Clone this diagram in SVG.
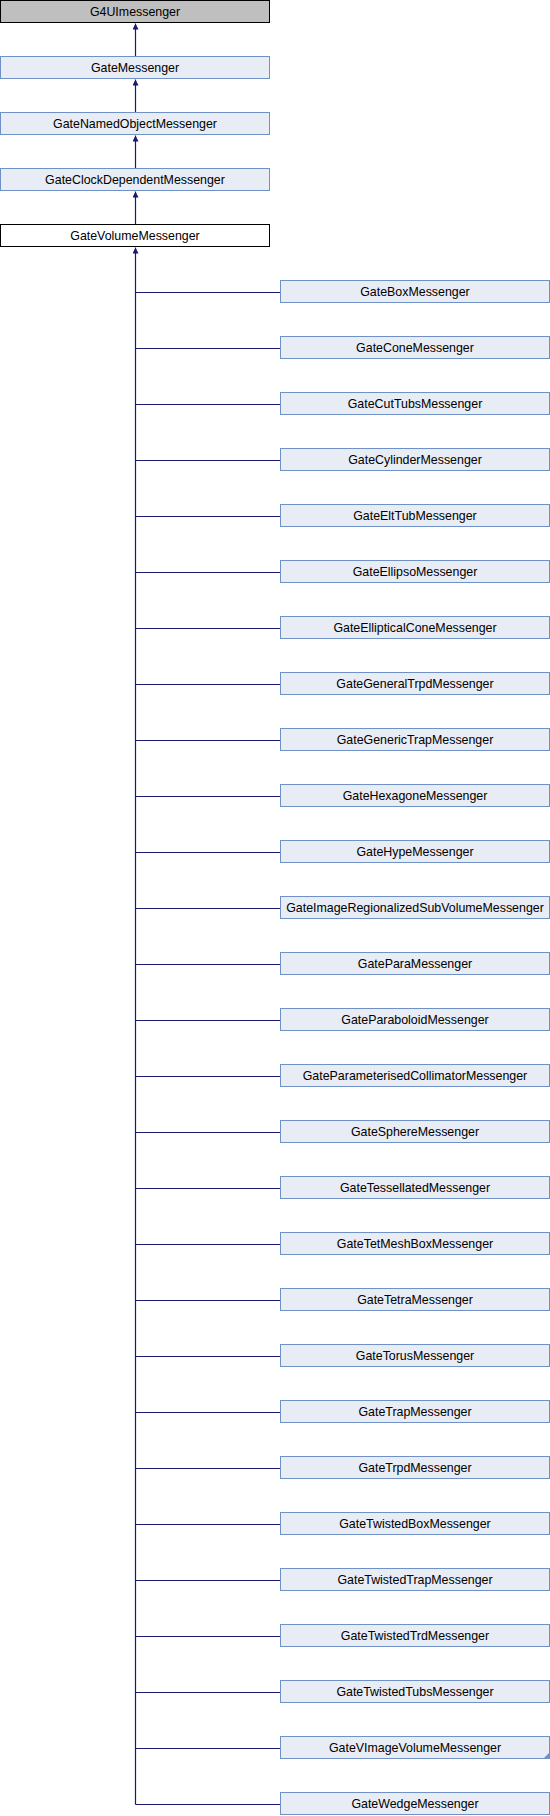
<svg xmlns="http://www.w3.org/2000/svg" width="550" height="1816" viewBox="0 0 550 1816">
<defs>
<style>
.n rect{fill:#e8ecf5;stroke:#7090c8;stroke-width:1}
.n text{font-family:"Liberation Sans",Arial,sans-serif;font-size:12.4px;fill:#000;text-anchor:middle}
.top rect{fill:#bfbfbf;stroke:#000}
.cur rect{fill:#fff;stroke:#000}
.e{stroke:#191970;stroke-width:1.2;fill:none}
</style>
<marker id="ah" viewBox="0 0 10 10" refX="10" refY="5" markerUnits="userSpaceOnUse" markerWidth="6" markerHeight="6" orient="auto">
<path d="M0,0 L10,5 L0,10 z" fill="#191970"/>
</marker>
</defs>
<g id="connectors">
<path class="e" d="M135.5,56.5 V23.5" marker-end="url(#ah)"/>
<path class="e" d="M135.5,112.5 V79.5" marker-end="url(#ah)"/>
<path class="e" d="M135.5,168.5 V135.5" marker-end="url(#ah)"/>
<path class="e" d="M135.5,224.5 V191.5" marker-end="url(#ah)"/>
<path class="e" d="M135.5,1804.5 V247.5" marker-end="url(#ah)"/>
<path class="e" d="M135.5,292.5H280.5M135.5,348.5H280.5M135.5,404.5H280.5M135.5,460.5H280.5M135.5,516.5H280.5M135.5,572.5H280.5M135.5,628.5H280.5M135.5,684.5H280.5M135.5,740.5H280.5M135.5,796.5H280.5M135.5,852.5H280.5M135.5,908.5H280.5M135.5,964.5H280.5M135.5,1020.5H280.5M135.5,1076.5H280.5M135.5,1132.5H280.5M135.5,1188.5H280.5M135.5,1244.5H280.5M135.5,1300.5H280.5M135.5,1356.5H280.5M135.5,1412.5H280.5M135.5,1468.5H280.5M135.5,1524.5H280.5M135.5,1580.5H280.5M135.5,1636.5H280.5M135.5,1692.5H280.5M135.5,1748.5H280.5M135.5,1804.5H280.5"/>
</g>
<g id="G4UImessenger" class="n top"><rect x="0.5" y="0.5" width="269" height="22"/><text x="135" y="16">G4UImessenger</text></g>
<g id="GateMessenger" class="n"><rect x="0.5" y="56.5" width="269" height="22"/><text x="135" y="72">GateMessenger</text></g>
<g id="GateNamedObjectMessenger" class="n"><rect x="0.5" y="112.5" width="269" height="22"/><text x="135" y="128">GateNamedObjectMessenger</text></g>
<g id="GateClockDependentMessenger" class="n"><rect x="0.5" y="168.5" width="269" height="22"/><text x="135" y="184">GateClockDependentMessenger</text></g>
<g id="GateVolumeMessenger" class="n cur"><rect x="0.5" y="224.5" width="269" height="22"/><text x="135" y="240">GateVolumeMessenger</text></g>
<g id="GateBoxMessenger" class="n"><rect x="280.5" y="280.5" width="269" height="22"/><text x="415" y="296">GateBoxMessenger</text></g>
<g id="GateConeMessenger" class="n"><rect x="280.5" y="336.5" width="269" height="22"/><text x="415" y="352">GateConeMessenger</text></g>
<g id="GateCutTubsMessenger" class="n"><rect x="280.5" y="392.5" width="269" height="22"/><text x="415" y="408">GateCutTubsMessenger</text></g>
<g id="GateCylinderMessenger" class="n"><rect x="280.5" y="448.5" width="269" height="22"/><text x="415" y="464">GateCylinderMessenger</text></g>
<g id="GateEltTubMessenger" class="n"><rect x="280.5" y="504.5" width="269" height="22"/><text x="415" y="520">GateEltTubMessenger</text></g>
<g id="GateEllipsoMessenger" class="n"><rect x="280.5" y="560.5" width="269" height="22"/><text x="415" y="576">GateEllipsoMessenger</text></g>
<g id="GateEllipticalConeMessenger" class="n"><rect x="280.5" y="616.5" width="269" height="22"/><text x="415" y="632">GateEllipticalConeMessenger</text></g>
<g id="GateGeneralTrpdMessenger" class="n"><rect x="280.5" y="672.5" width="269" height="22"/><text x="415" y="688">GateGeneralTrpdMessenger</text></g>
<g id="GateGenericTrapMessenger" class="n"><rect x="280.5" y="728.5" width="269" height="22"/><text x="415" y="744">GateGenericTrapMessenger</text></g>
<g id="GateHexagoneMessenger" class="n"><rect x="280.5" y="784.5" width="269" height="22"/><text x="415" y="800">GateHexagoneMessenger</text></g>
<g id="GateHypeMessenger" class="n"><rect x="280.5" y="840.5" width="269" height="22"/><text x="415" y="856">GateHypeMessenger</text></g>
<g id="GateImageRegionalizedSubVolumeMessenger" class="n"><rect x="280.5" y="896.5" width="269" height="22"/><text x="415" y="912">GateImageRegionalizedSubVolumeMessenger</text></g>
<g id="GateParaMessenger" class="n"><rect x="280.5" y="952.5" width="269" height="22"/><text x="415" y="968">GateParaMessenger</text></g>
<g id="GateParaboloidMessenger" class="n"><rect x="280.5" y="1008.5" width="269" height="22"/><text x="415" y="1024">GateParaboloidMessenger</text></g>
<g id="GateParameterisedCollimatorMessenger" class="n"><rect x="280.5" y="1064.5" width="269" height="22"/><text x="415" y="1080">GateParameterisedCollimatorMessenger</text></g>
<g id="GateSphereMessenger" class="n"><rect x="280.5" y="1120.5" width="269" height="22"/><text x="415" y="1136">GateSphereMessenger</text></g>
<g id="GateTessellatedMessenger" class="n"><rect x="280.5" y="1176.5" width="269" height="22"/><text x="415" y="1192">GateTessellatedMessenger</text></g>
<g id="GateTetMeshBoxMessenger" class="n"><rect x="280.5" y="1232.5" width="269" height="22"/><text x="415" y="1248">GateTetMeshBoxMessenger</text></g>
<g id="GateTetraMessenger" class="n"><rect x="280.5" y="1288.5" width="269" height="22"/><text x="415" y="1304">GateTetraMessenger</text></g>
<g id="GateTorusMessenger" class="n"><rect x="280.5" y="1344.5" width="269" height="22"/><text x="415" y="1360">GateTorusMessenger</text></g>
<g id="GateTrapMessenger" class="n"><rect x="280.5" y="1400.5" width="269" height="22"/><text x="415" y="1416">GateTrapMessenger</text></g>
<g id="GateTrpdMessenger" class="n"><rect x="280.5" y="1456.5" width="269" height="22"/><text x="415" y="1472">GateTrpdMessenger</text></g>
<g id="GateTwistedBoxMessenger" class="n"><rect x="280.5" y="1512.5" width="269" height="22"/><text x="415" y="1528">GateTwistedBoxMessenger</text></g>
<g id="GateTwistedTrapMessenger" class="n"><rect x="280.5" y="1568.5" width="269" height="22"/><text x="415" y="1584">GateTwistedTrapMessenger</text></g>
<g id="GateTwistedTrdMessenger" class="n"><rect x="280.5" y="1624.5" width="269" height="22"/><text x="415" y="1640">GateTwistedTrdMessenger</text></g>
<g id="GateTwistedTubsMessenger" class="n"><rect x="280.5" y="1680.5" width="269" height="22"/><text x="415" y="1696">GateTwistedTubsMessenger</text></g>
<g id="GateVImageVolumeMessenger" class="n"><rect x="280.5" y="1736.5" width="269" height="22"/><text x="415" y="1752">GateVImageVolumeMessenger</text><path d="M549.5,1752.5 L549.5,1758.5 L543.5,1758.5 z" fill="#7090c8"/></g>
<g id="GateWedgeMessenger" class="n"><rect x="280.5" y="1792.5" width="269" height="22"/><text x="415" y="1808">GateWedgeMessenger</text></g>
</svg>
